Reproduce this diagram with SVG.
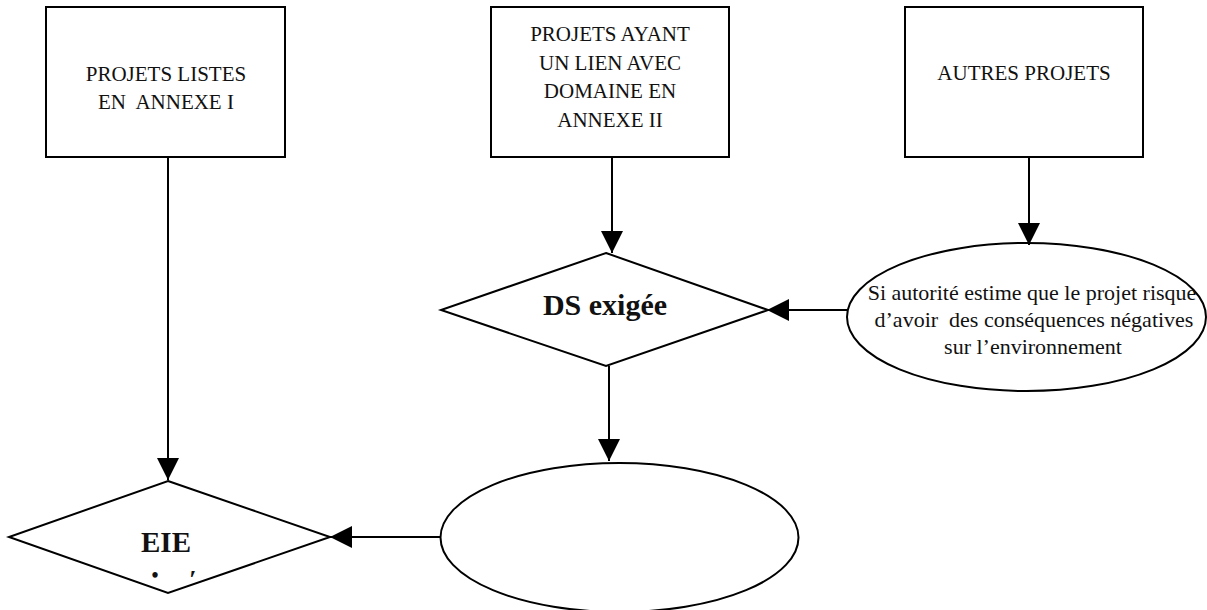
<svg xmlns="http://www.w3.org/2000/svg" width="1207" height="610" viewBox="0 0 1207 610">
<style>
.box{fill:#fff;stroke:#000;stroke-width:2}
.shape{fill:#fff;stroke:#000;stroke-width:2}
text{white-space:pre}
.t{font-family:"Liberation Serif",serif;font-size:21px;fill:#111;text-anchor:middle}
.ts{font-family:"Liberation Serif",serif;font-size:22px;fill:#111;text-anchor:middle}
.b{font-family:"Liberation Serif",serif;font-weight:bold;fill:#111;text-anchor:middle}
.c{stroke:#000;stroke-width:2;fill:none;marker-end:url(#ah)}
</style>
<defs>
<marker id="ah" markerUnits="userSpaceOnUse" markerWidth="22" markerHeight="22" viewBox="0 0 20 20" refX="20" refY="10" orient="auto">
<path d="M0,0 L20,10 L0,20 Z" fill="#000"/>
</marker>
</defs>
<rect width="1207" height="610" fill="#fff"/>
<g id="box1">
<rect class="box" x="46" y="7" width="239" height="150"/>
<text class="t" x="166" y="81">PROJETS LISTES</text>
<text class="t" x="166" y="109" xml:space="preserve">EN  ANNEXE I</text>
</g>
<g id="box2">
<rect class="box" x="491" y="7" width="238" height="150"/>
<text class="t" x="610" y="41">PROJETS AYANT</text>
<text class="t" x="610" y="70">UN LIEN AVEC</text>
<text class="t" x="610" y="98">DOMAINE EN</text>
<text class="t" x="610" y="127">ANNEXE II</text>
</g>
<g id="box3">
<rect class="box" x="905" y="7" width="238" height="150"/>
<text class="t" x="1024" y="80">AUTRES PROJETS</text>
</g>
<g id="ds">
<polygon class="shape" points="606,253 768,310 606,366 441,310"/>
<text class="b" x="605" y="315" font-size="30">DS exigée</text>
</g>
<g id="cond">
<ellipse class="shape" cx="1026.5" cy="317" rx="179.5" ry="74"/>
<text class="ts" x="1032" y="300">Si autorité estime que le projet risque</text>
<text class="ts" x="1034" y="327" xml:space="preserve">d’avoir  des conséquences négatives</text>
<text class="ts" x="1033" y="354">sur l’environnement</text>
</g>
<g id="eie">
<polygon class="shape" points="168,481 330,537 168,593 9,537"/>
<text class="b" x="166" y="552" font-size="29">EIE</text>
<text class="b" x="155" y="582" font-size="20">•</text>
<text class="b" x="193" y="588" font-size="26">′</text>
</g>
<g id="ellipse2">
<ellipse class="shape" cx="619.5" cy="537.5" rx="179" ry="74.5"/>
</g>
<g id="connectors">
<line class="c" x1="168" y1="157" x2="168" y2="480"/>
<line class="c" x1="612" y1="157" x2="612" y2="253"/>
<line class="c" x1="1029" y1="157" x2="1029" y2="245"/>
<line class="c" x1="847" y1="310" x2="767" y2="310"/>
<line class="c" x1="609" y1="366" x2="609" y2="461"/>
<line class="c" x1="441" y1="537" x2="330" y2="537"/>
</g>
</svg>
